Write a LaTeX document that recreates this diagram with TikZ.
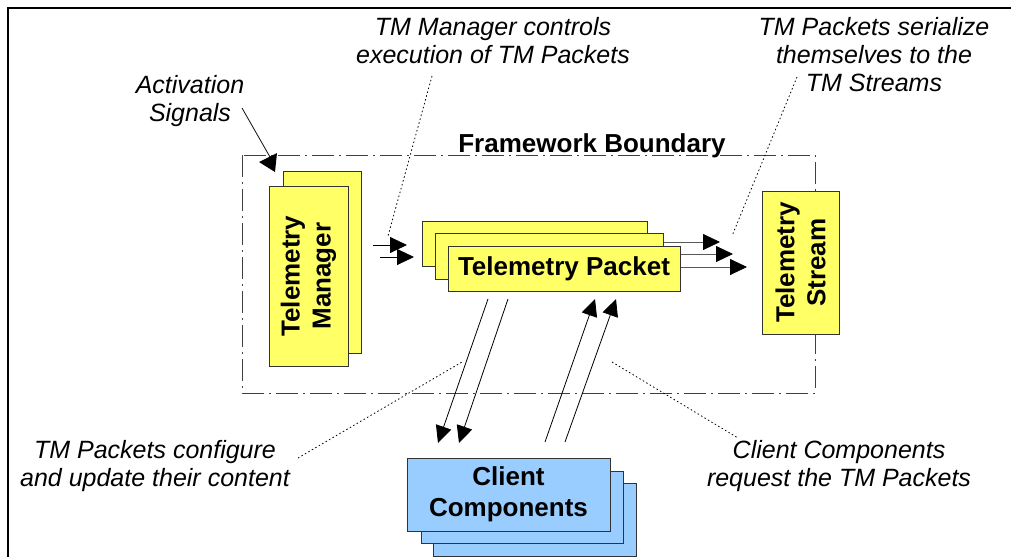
\documentclass[tikz,border=0pt]{standalone}
\usepackage{fontspec}
\setmainfont{Liberation Sans}
\usetikzlibrary{arrows.meta}
\definecolor{boxyellow}{HTML}{FFFF66}
\definecolor{boxblue}{HTML}{99CCFF}
\tikzset{
  ybox/.style={draw=black!80, line width=0.8pt, fill=boxyellow, inner sep=0pt},
  bbox/.style={draw=black!80, line width=0.8pt, fill=boxblue, inner sep=0pt},
  lbl/.style={font=\fontsize{26}{31}\selectfont\bfseries, align=center, inner sep=0pt},
  note/.style={font=\fontsize{25}{28}\selectfont\itshape, align=center, inner sep=0pt},
  arr/.style={line width=0.8pt, -{Triangle[length=17pt,width=16pt,color=black]}},
  grayarr/.style={arr, draw=black!65},
  leader/.style={line width=0.8pt, dash pattern=on 1.5pt off 2.5pt},
  boundary/.style={line width=0.9pt, draw=black!75, dash pattern=on 22pt off 5pt on 2pt off 5pt}
}
\begin{document}
\begin{tikzpicture}[x=1pt,y=-1pt]
\useasboundingbox (0,0) rectangle (1011,557);
% outer frame (only top and left visible)
\draw[line width=1.6pt] (8,557) -- (8,8) -- (1011,8);
% framework boundary
\draw[boundary] (242,155) rectangle (815,393);
\node[lbl, anchor=base] (fb) at (592,152) {Framework Boundary};

% connectors behind boxes
\coordinate (s1) at (560,242); \coordinate (t1) at (720,242);
\coordinate (s2) at (570,254); \coordinate (t2) at (733,254);
\coordinate (s3) at (580,267); \coordinate (t3) at (747,267);
\draw[grayarr] (s1) -- (t1);
\draw[grayarr] (s2) -- (t2);
\draw[grayarr] (s3) -- (t3);

% Telemetry Manager
\node[ybox, minimum width=78pt, minimum height=182pt] (tmb) at (322,262) {};
\node[ybox, minimum width=180pt, minimum height=79pt, rotate=90] (tm) at (308.5,276) {};
\node[lbl, rotate=90] (tmt) at (tm.center) {Telemetry\\Manager};

% Telemetry Packets
\node[ybox, minimum width=225pt, minimum height=45pt] (p1) at (534.5,243.5) {};
\node[ybox, minimum width=228pt, minimum height=46pt] (p2) at (549,256) {};
\node[ybox, minimum width=232pt, minimum height=45pt] (p3) at (564,268.5) {};
\node[lbl] (pt) at (p3.center) {Telemetry Packet};

% Telemetry Stream
\node[ybox, minimum width=143pt, minimum height=77pt, rotate=90] (ts) at (800.5,262.5) {};
\node[lbl, rotate=90] (tst) at (ts.center) {Telemetry\\Stream};

% Client Components
\node[bbox, minimum width=203pt, minimum height=73pt] (c3) at (534.5,520) {};
\node[bbox, minimum width=202pt, minimum height=72pt] (c2) at (522,507) {};
\node[bbox, minimum width=203pt, minimum height=73pt] (c1) at (508.5,494.5) {};
\node[lbl] (ct) at (c1.center) {Client\\Components};

% manager -> packet arrows
\coordinate (m1) at (373,245); \coordinate (m1t) at (407,245);
\coordinate (m2) at (380,257); \coordinate (m2t) at (414,257);
\draw[arr] (m1) -- (m1t);
\draw[arr] (m2) -- (m2t);

% packet <-> client arrows
\coordinate (d1) at (488,299); \coordinate (d1t) at (438,443);
\coordinate (d2) at (508,299); \coordinate (d2t) at (459,443);
\coordinate (u1) at (545,442); \coordinate (u1t) at (595,299);
\coordinate (u2) at (565,442); \coordinate (u2t) at (616,299);
\draw[arr] (d1) -- (d1t);
\draw[arr] (d2) -- (d2t);
\draw[arr] (u1) -- (u1t);
\draw[arr] (u2) -- (u2t);

% notes
\node[note] (nact) at (190,101) {Activation\\Signals};
\node[note] (nmgr) at (493,41) {TM Manager controls\\execution of TM Packets};
\node[note] (nser) at (874,55) {TM Packets serialize\\themselves to the\\TM Streams};
\node[note] (ncfg) at (155,466) {TM Packets configure\\and update their content};
\node[note] (nreq) at (839,466) {Client Components\\request the TM Packets};

% activation arrow
\coordinate (a0) at (242,108); \coordinate (a1) at (270,157);
\draw[line width=0.8pt] (a0) -- (a1);
\fill (259,162) -- (277,153) -- (275,172) -- cycle;

% leaders
\coordinate (l1a) at (432,76); \coordinate (l1b) at (388,236);
\coordinate (l2a) at (797,77); \coordinate (l2b) at (732,236);
\coordinate (l3a) at (298,458); \coordinate (l3b) at (462,362);
\coordinate (l4a) at (612,362); \coordinate (l4b) at (738,438);
\draw[leader] (l1a) -- (l1b);
\draw[leader] (l2a) -- (l2b);
\draw[leader] (l3a) -- (l3b);
\draw[leader] (l4a) -- (l4b);
\end{tikzpicture}
\end{document}
